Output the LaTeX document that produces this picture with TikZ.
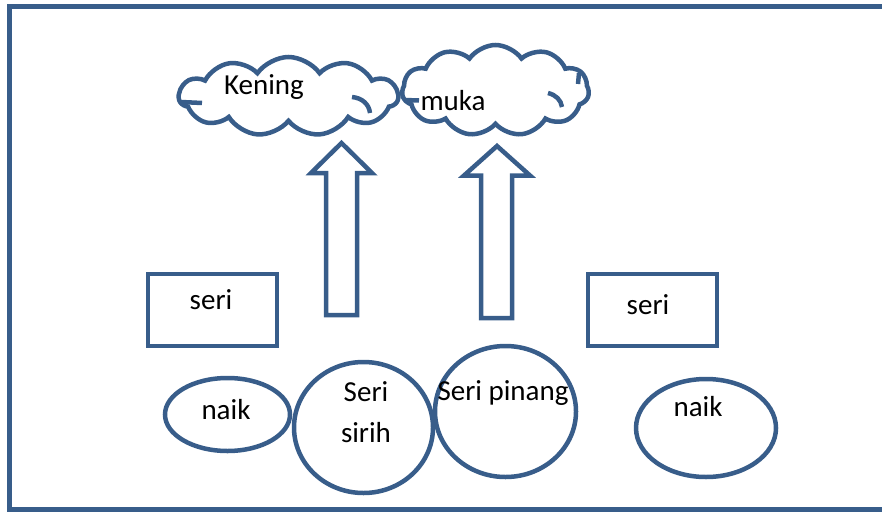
\documentclass[tikz,border=0pt]{standalone}
\usepackage{fontspec}
\setmainfont{Carlito}
\usetikzlibrary{shapes.symbols,shapes.geometric}
\definecolor{ol}{RGB}{56,93,138}
\begin{document}
\begin{tikzpicture}[x=1pt,y=-1pt,
  shp/.style={draw=ol,line width=4.5pt,inner sep=0pt},
  ell/.style={shp,ellipse},
  box/.style={shp,rectangle},
  cld/.style={shp,cloud,cloud puffs=11,cloud puff arc=110,cloud ignores aspect},
  inner/.style={draw=ol,line width=4.5pt},
  uparrow/.style={draw=ol,line width=4.5pt,line join=miter},
  lbl/.style={font=\fontsize{29}{35}\selectfont,inner sep=0pt,align=center}]
\useasboundingbox (0,0) rectangle (882,511);
% frame
\draw[draw=ol,line width=5.5pt,line join=miter] (892,6.5) -- (9.5,6.5) -- (9.5,509.5) -- (892,509.5);
% clouds
\node[cld,minimum width=219pt,minimum height=79pt] (kening) at (288.5,96.5) {};
\node[cld,minimum width=187pt,minimum height=91pt] (muka) at (495.5,90.5) {};
\draw[inner] (352,97) .. controls (362,98) and (369,104) .. (370,113);
\draw[inner] (181,102) -- (202,103);
\draw[inner] (548,93) .. controls (556,95) and (561,100) .. (562,107);
\draw[inner] (404,100) -- (419,100.5);
\draw[inner] (579,73) -- (578,84);
\node[lbl] (tkening) at (264,87.5) {Kening};
\node[lbl] (tmuka) at (453,100.5) {muka};
% arrows
\draw[uparrow] (326,315) -- (326,173) -- (311,173) -- (341.5,143) -- (372,173) -- (357,173) -- (357,315) -- cycle;
\draw[uparrow] (481,318) -- (481,175.5) -- (464,175.5) -- (497,146) -- (530,175.5) -- (512,175.5) -- (512,318) -- cycle;
% boxes
\node[box,minimum width=129pt,minimum height=72pt] (seriL) at (212.5,310) {};
\node[box,minimum width=129pt,minimum height=72pt] (seriR) at (652.5,310) {};
\node[lbl] (tseriL) at (211,300) {seri};
\node[lbl] (tseriR) at (648,305) {seri};
% ellipses
\node[ell,minimum width=125pt,minimum height=73pt] (naikL) at (227.5,414.5) {};
\node[ell,minimum width=139pt,minimum height=131pt] (sirih) at (363.5,427.5) {};
\node[ell,minimum width=141pt,minimum height=131pt] (pinang) at (505.5,411.5) {};
\node[ell,minimum width=140pt,minimum height=98pt] (naikR) at (706,428) {};
\node[lbl] (tnaikL) at (226,410) {naik};
\node[lbl,font=\fontsize{29}{41}\selectfont] (tsirih) at (366,412.5) {Seri\\sirih};
\node[lbl] (tpinang) at (503,393.5) {Seri pinang};
\node[lbl] (tnaikR) at (698,407) {naik};
\end{tikzpicture}
\end{document}
